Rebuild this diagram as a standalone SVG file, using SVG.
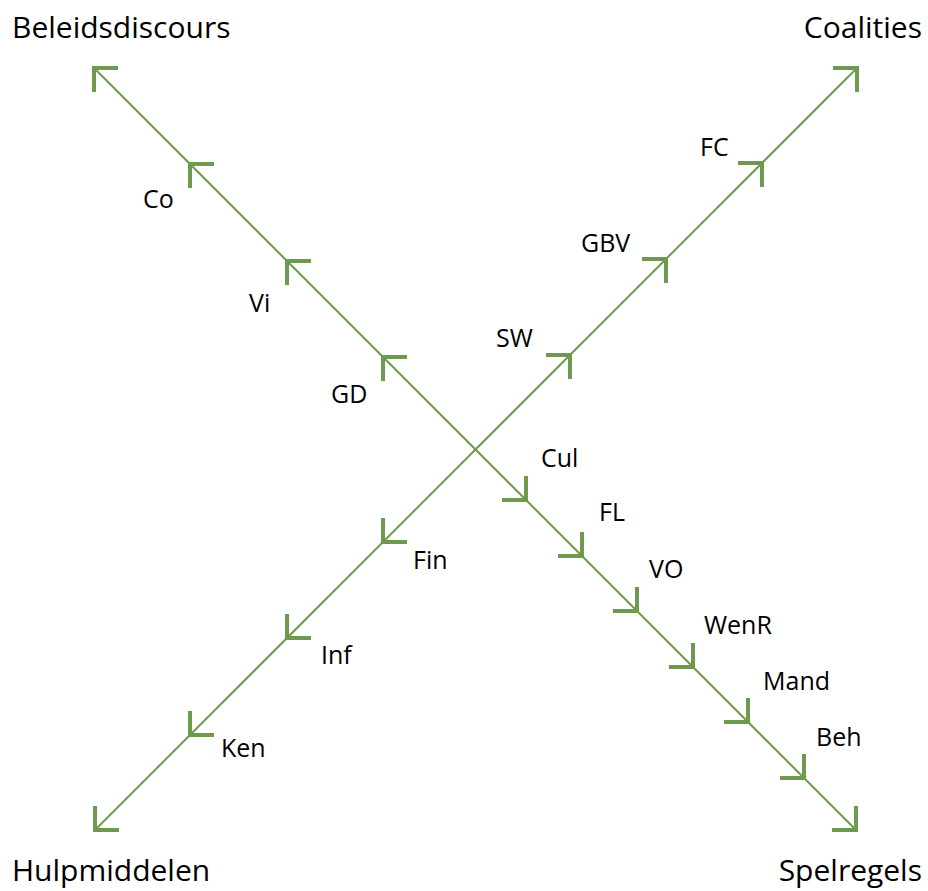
<svg xmlns="http://www.w3.org/2000/svg" xmlns:xlink="http://www.w3.org/1999/xlink" width="928" height="891" viewBox="0 0 928 891">
<style>
.ax{stroke:#6d9a4c;stroke-width:2;fill:none}
.ch{stroke:#6d9a4c;stroke-width:4;fill:none;stroke-linejoin:miter;stroke-linecap:butt}
.t{font-family:"Open Sans","Noto Sans",sans-serif;font-size:25px;fill:#000}
.big{font-family:"Open Sans","Noto Sans",sans-serif;font-size:30px;fill:#000}
</style>
<defs>
<polyline id="chev" points="24,0 0,0 0,24"/>
</defs>
<rect width="928" height="891" fill="#fff"/>
<g id="connectors">
<line class="ax" x1="93" y1="67" x2="857" y2="831"/>
<line class="ax" x1="94" y1="831" x2="858" y2="67"/>
<g class="ch">
<use xlink:href="#chev" transform="translate(94,68)"/>
<use xlink:href="#chev" transform="translate(190,164)"/>
<use xlink:href="#chev" transform="translate(287,261)"/>
<use xlink:href="#chev" transform="translate(383,357)"/>
<use xlink:href="#chev" transform="translate(526,500) rotate(180)"/>
<use xlink:href="#chev" transform="translate(582,556) rotate(180)"/>
<use xlink:href="#chev" transform="translate(637,611) rotate(180)"/>
<use xlink:href="#chev" transform="translate(693,667) rotate(180)"/>
<use xlink:href="#chev" transform="translate(748,722) rotate(180)"/>
<use xlink:href="#chev" transform="translate(804,778) rotate(180)"/>
<use xlink:href="#chev" transform="translate(856,830) rotate(180)"/>
<use xlink:href="#chev" transform="translate(570,355) rotate(90)"/>
<use xlink:href="#chev" transform="translate(666,259) rotate(90)"/>
<use xlink:href="#chev" transform="translate(762,163) rotate(90)"/>
<use xlink:href="#chev" transform="translate(857,68) rotate(90)"/>
<use xlink:href="#chev" transform="translate(383,542) rotate(270)"/>
<use xlink:href="#chev" transform="translate(287,638) rotate(270)"/>
<use xlink:href="#chev" transform="translate(190,735) rotate(270)"/>
<use xlink:href="#chev" transform="translate(95,830) rotate(270)"/>
</g>
</g>
<g id="beleidsdiscours"><text class="big" x="12" y="38">Beleidsdiscours</text></g>
<g id="coalities"><text class="big" x="922" y="38" text-anchor="end">Coalities</text></g>
<g id="hulpmiddelen"><text class="big" x="12" y="881">Hulpmiddelen</text></g>
<g id="spelregels"><text class="big" x="922" y="881" text-anchor="end">Spelregels</text></g>
<g id="co"><text class="t" x="143" y="208">Co</text></g>
<g id="vi"><text class="t" x="249" y="312">Vi</text></g>
<g id="gd"><text class="t" x="331" y="403">GD</text></g>
<g id="sw"><text class="t" x="496" y="347">SW</text></g>
<g id="gbv"><text class="t" x="581" y="252">GBV</text></g>
<g id="fc"><text class="t" x="700" y="156">FC</text></g>
<g id="cul"><text class="t" x="541" y="467">Cul</text></g>
<g id="fl"><text class="t" x="599" y="521">FL</text></g>
<g id="vo"><text class="t" x="649" y="578">VO</text></g>
<g id="wenr"><text class="t" x="704" y="634">WenR</text></g>
<g id="mand"><text class="t" x="763" y="690">Mand</text></g>
<g id="beh"><text class="t" x="816" y="746">Beh</text></g>
<g id="fin"><text class="t" x="413" y="569">Fin</text></g>
<g id="inf"><text class="t" x="321" y="664">Inf</text></g>
<g id="ken"><text class="t" x="221" y="757">Ken</text></g>
</svg>
